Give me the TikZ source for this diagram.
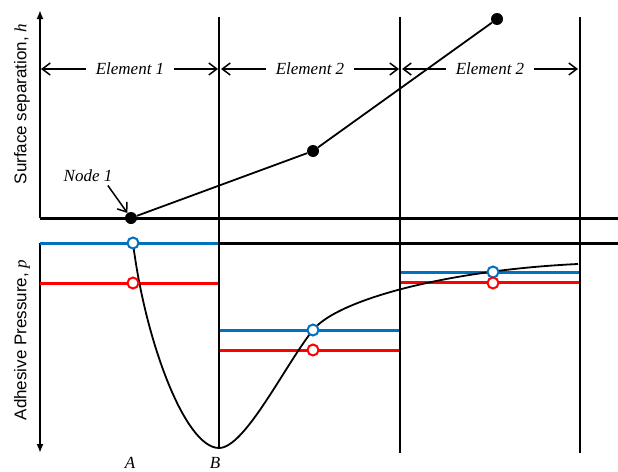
\documentclass[tikz,border=0pt]{standalone}
\usepackage{fontspec}
\setmainfont{Liberation Serif}
\setsansfont{Liberation Sans}
\usetikzlibrary{arrows.meta, positioning}
\definecolor{presBlue}{RGB}{0,112,192}
\definecolor{presRed}{RGB}{255,0,0}

\begin{document}
\begin{tikzpicture}[
    x=1pt, y=-1pt,
    axis/.style={line width=2pt, -{Latex[length=9pt,width=7pt]}},
    base/.style={line width=3pt},
    divider/.style={line width=2pt},
    link/.style={line width=1.8pt},
    curve/.style={line width=1.8pt},
    dimarrow/.style={line width=1.5pt, -{Straight Barb[length=8pt,width=12pt]}},
    ellabel/.style={fill=white, inner xsep=10pt, inner ysep=2pt, font=\fontsize{17}{20}\selectfont\itshape},
    dot/.style={circle, fill=black, inner sep=0pt, minimum size=12pt},
    ring/.style={circle, fill=white, line width=2pt, inner sep=0pt, minimum size=11pt},
    blueline/.style={presBlue, line width=3pt},
    redline/.style={presRed, line width=3pt},
    axlabel/.style={rotate=90, font=\fontsize{17}{20}\selectfont\sffamily},
    every node/.style={font=\fontsize{17}{20}\selectfont}
]
\useasboundingbox (0,0) rectangle (618,471);

% Axes
\draw[axis] (40,218) -- (40,10);
\draw[axis] (40,243) -- (40,453);
\node[axlabel] (hlab) at (22,104) {Surface separation, {\rmfamily\itshape h}};
\node[axlabel] (plab) at (22,340) {Adhesive Pressure, {\rmfamily\itshape p}};

% Pressure levels per element
\draw[blueline] (40,243) -- (219,243);
\draw[redline] (40,283) -- (219,283);
\draw[blueline] (219,330) -- (400,330);
\draw[redline] (219,350) -- (400,350);
\draw[blueline] (400,272) -- (580,272);
\draw[redline] (400,282) -- (580,282);

% Base lines and element boundaries
\draw[base] (40,218) -- (618,218);
\draw[base] (219,243) -- (618,243);
\draw[divider] (219,17) -- (219,448);
\draw[divider] (400,17) -- (400,453);
\draw[divider] (580,17) -- (580,453);

% Element widths
\node[ellabel] (el1) at (130,69) {Element 1};
\node[ellabel] (el2) at (310,69) {Element 2};
\node[ellabel] (el3) at (490,69) {Element 2};
\coordinate (e0) at (41,69);
\coordinate (e1a) at (218,69);
\coordinate (e1b) at (221,69);
\coordinate (e2a) at (399,69);
\coordinate (e2b) at (402,69);
\coordinate (e3) at (578,69);
\draw[dimarrow] (el1) -- (e0);
\draw[dimarrow] (el1) -- (e1a);
\draw[dimarrow] (el2) -- (e1b);
\draw[dimarrow] (el2) -- (e2a);
\draw[dimarrow] (el3) -- (e2b);
\draw[dimarrow] (el3) -- (e3);

% Surface separation nodes
\node[dot] (n1) at (131,218) {};
\node[dot] (n2) at (313,151) {};
\node[dot] (n3) at (497,19) {};
\draw[link] (n1) -- (n2) -- (n3);
\node[font=\fontsize{17}{20}\selectfont\itshape] (n1lab) at (88,176) {Node 1};
\draw[dimarrow] ([xshift=-8pt]n1lab.south east) -- (n1);

% Pressure curve
\draw[curve] (133,243) .. controls (145,340) and (185,448) .. (219,448)
    .. controls (245,448) and (285,365) .. (313,330)
    .. controls (338,299) and (450,270) .. (578,264);

% Element mean values
\node[ring, draw=presBlue] (b1) at (133,243) {};
\node[ring, draw=presRed] (r1) at (133,283) {};
\node[ring, draw=presBlue] (b2) at (313,330) {};
\node[ring, draw=presRed] (r2) at (313,350) {};
\node[ring, draw=presBlue] (b3) at (493,272) {};
\node[ring, draw=presRed] (r3) at (493,283) {};

% Points on the x axis
\node[font=\fontsize{17}{20}\selectfont\itshape] (ptA) at (130,463) {A};
\node[font=\fontsize{17}{20}\selectfont\itshape] (ptB) at (215,463) {B};

\end{tikzpicture}
\end{document}
